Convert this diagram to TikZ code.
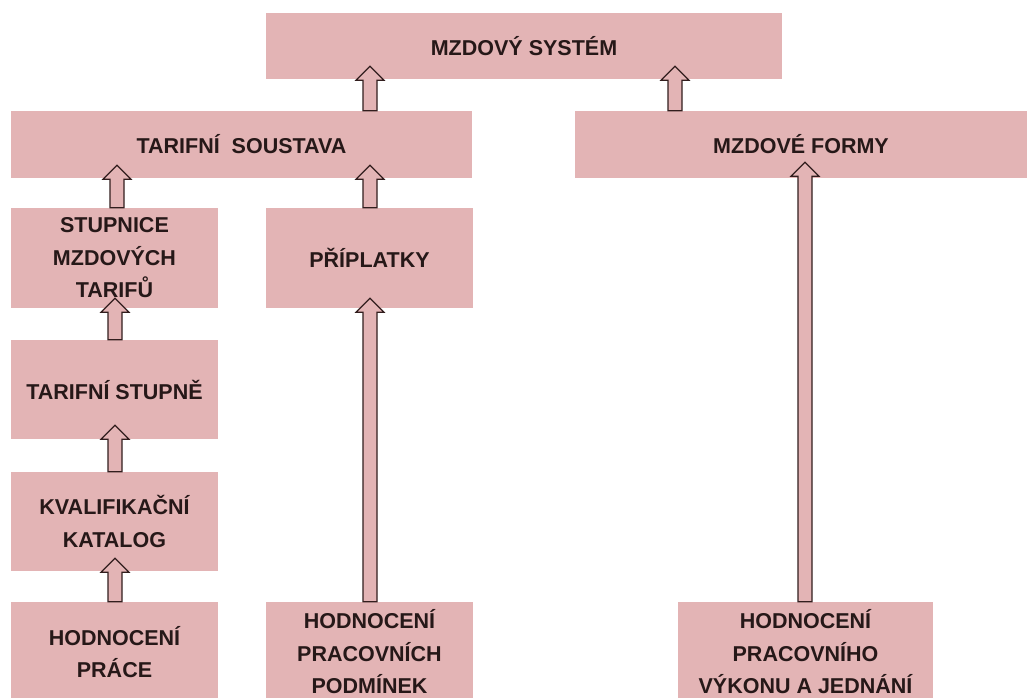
\documentclass[tikz,border=0pt]{standalone}
\usepackage{fontspec}
\setmainfont{Liberation Sans}
\usetikzlibrary{calc}
\definecolor{boxcol}{RGB}{227,180,181}
\definecolor{txtcol}{RGB}{38,24,24}
\definecolor{arrcol}{RGB}{50,30,30}
\tikzset{
  pbox/.style={fill=boxcol, draw=none, inner sep=0pt, align=center,
    text=txtcol, font=\fontsize{21.5}{32.5}\selectfont\bfseries},
  blockarr/.style={fill=boxcol, draw=arrcol, line width=1.2pt, line join=miter}
}
% #1 tip offset above upper box south, #2 lower node, #3 upper node, #4 x position
\newcommand\barrow[4][13]{%
  \draw[blockarr] let \p1=(#2.north), \p2=(#3.south), \p3=(#4,0) in
    (\x3-7pt,\y1) -- (\x3-7pt,\y2+#1pt-14pt) -- (\x3-14pt,\y2+#1pt-14pt) --
    (\x3,\y2+#1pt) -- (\x3+14pt,\y2+#1pt-14pt) -- (\x3+7pt,\y2+#1pt-14pt) --
    (\x3+7pt,\y1) -- cycle;}
\begin{document}
\begin{tikzpicture}[x=1pt,y=-1pt]
\useasboundingbox[fill=white] (0,0) rectangle (1027,698);
\begin{scope}
\clip (0,0) rectangle (1027,698);
\node[pbox, minimum width=516pt, minimum height=66pt] (sys) at (524,46) {MZDOVÝ SYSTÉM};
\node[pbox, minimum width=461pt, minimum height=67pt] (tar) at (241.5,144.5) {TARIFNÍ \ SOUSTAVA};
\node[pbox, minimum width=452pt, minimum height=67pt] (form) at (801,144.5) {MZDOVÉ FORMY};
\node[pbox, minimum width=207pt, minimum height=100pt] (stup) at (114.5,258) {STUPNICE\\MZDOVÝCH\\TARIFŮ};
\node[pbox, minimum width=207pt, minimum height=100pt] (pri) at (369.5,258) {PŘÍPLATKY};
\node[pbox, minimum width=207pt, minimum height=99pt] (ts) at (114.5,389.5) {TARIFNÍ STUPNĚ};
\node[pbox, minimum width=207pt, minimum height=99pt] (kval) at (114.5,521.5) {KVALIFIKAČNÍ\\KATALOG};
\node[pbox, minimum width=207pt, minimum height=100pt] (hp) at (114.5,652) {HODNOCENÍ\\PRÁCE};
\node[pbox, minimum width=207pt, minimum height=100pt] (hpp) at (369.5,652) {HODNOCENÍ\\PRACOVNÍCH\\PODMÍNEK};
\node[pbox, minimum width=255pt, minimum height=100pt] (hpv) at (805.5,652) {HODNOCENÍ\\PRACOVNÍHO\\VÝKONU A JEDNÁNÍ};
\end{scope}
\barrow{tar}{sys}{370}
\barrow{form}{sys}{675}
\barrow{stup}{tar}{117}
\barrow{pri}{tar}{370}
\barrow[10]{ts}{stup}{115}
\barrow[14]{kval}{ts}{115}
\barrow{hp}{kval}{115}
\barrow[10]{hpp}{pri}{370}
\barrow[16]{hpv}{form}{805}
\end{tikzpicture}
\end{document}
